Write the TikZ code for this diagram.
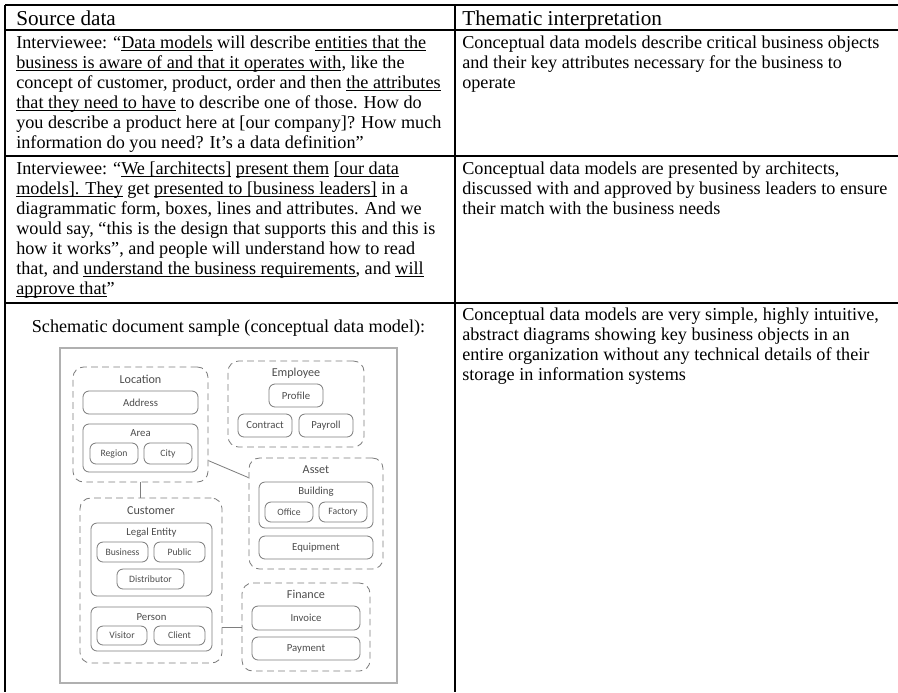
\documentclass[tikz,border=0pt]{standalone}
\usepackage{fontspec}
\setmainfont{Liberation Serif}
\newfontfamily\diagfont{Carlito}
\newcommand\myul[1]{\setbox0\hbox{#1}\rlap{\rule[-2.0pt]{\wd0}{0.5pt}}\box0\relax}
\usetikzlibrary{fit}
\definecolor{dg}{HTML}{7E7E7E}
\definecolor{dtext}{HTML}{4C4C4C}
\definecolor{frm}{HTML}{B0B0B0}
\newcommand\dbox[7]{%
  \path (#3,#4) coordinate (#1-a) (#5,#6) coordinate (#1-b);
  \node[#2, fit=(#1-a)(#1-b)] (#1) {};
  \node[#2, draw=none, inner sep=0pt] (#1-l) at (#1.center) {#7};}
\begin{document}
\begin{tikzpicture}[x=0.66pt,y=-0.66pt,
  tl/.style={anchor=base west,inner sep=0pt,font=\fontsize{12}{14}\selectfont},
  hd/.style={anchor=base west,inner sep=0pt,font=\fontsize{14}{16}\selectfont},
  rule/.style={line width=0.7pt,black},
  grp/.style={draw=dg,line width=0.55pt,dash pattern=on 4.4pt off 2.9pt,rounded corners=7pt,inner sep=0pt},
  sbox/.style={draw=dg,line width=0.55pt,rounded corners=4pt,inner sep=0pt,text=dtext,font=\diagfont\fontsize{6.4}{7}\selectfont},
  mbox/.style={sbox,font=\diagfont\fontsize{7.1}{8}\selectfont},
  ttl/.style={inner sep=0pt,text=dtext,font=\diagfont\fontsize{8.0}{9}\selectfont},
  mttl/.style={inner sep=0pt,text=dtext,font=\diagfont\fontsize{7.1}{8}\selectfont},
  conn/.style={draw=dg,line width=0.55pt}
]
\useasboundingbox (0,0) rectangle (898,692);
% table rules
\draw[rule] (5,5) -- (898,5);
\draw[rule] (5,30) -- (898,30);
\draw[rule] (5,156) -- (898,156);
\draw[rule] (5,303) -- (898,303);
\draw[rule] (5,5) -- (5,692);
\draw[rule] (455,5) -- (455,692);
% header
\node[hd] (hs) at (16,25) {Source data};
\node[hd] (ht) at (462,25) {Thematic interpretation};
% row 1
\node[tl] (a1) at (16,48) {Interviewee: “\myul{Data models} will describe \myul{entities that the}};
\node[tl] (a2) at (16,68) {\myul{business is aware of and that it operates with}, like the};
\node[tl] (a3) at (16,88) {concept of customer, product, order and then \myul{the attributes}};
\node[tl] (a4) at (16,108) {\myul{that they need to have} to describe one of those. How do};
\node[tl] (a5) at (16,128) {you describe a product here at [our company]? How much};
\node[tl] (a6) at (16,148) {information do you need? It’s a data definition”};
\node[tl] (b1) at (462,48) {Conceptual data models describe critical business objects};
\node[tl] (b2) at (462,68) {and their key attributes necessary for the business to};
\node[tl] (b3) at (462,88) {operate};
% row 2
\node[tl] (c1) at (16,174) {Interviewee: “\myul{We [architects]} \myul{present them} \myul{[our data}};
\node[tl] (c2) at (16,194) {\myul{models]. They} get \myul{presented to [business leaders]} in a};
\node[tl] (c3) at (16,214) {diagrammatic form, boxes, lines and attributes. And we};
\node[tl] (c4) at (16,234) {would say, “this is the design that supports this and this is};
\node[tl] (c5) at (16,254) {how it works”, and people will understand how to read};
\node[tl] (c6) at (16,274) {that, and \myul{understand the business requirements}, and \myul{will}};
\node[tl] (c7) at (16,294) {\myul{approve that}”};
\node[tl] (d1) at (462,174) {Conceptual data models are presented by architects,};
\node[tl] (d2) at (462,194) {discussed with and approved by business leaders to ensure};
\node[tl] (d3) at (462,214) {their match with the business needs};
% row 3
\node[tl,anchor=base] (e1) at (228.5,332) {Schematic document sample (conceptual data model):};
\node[tl] (f1) at (462,320) {Conceptual data models are very simple, highly intuitive,};
\node[tl] (f2) at (462,340) {abstract diagrams showing key business objects in an};
\node[tl] (f3) at (462,360) {entire organization without any technical details of their};
\node[tl] (f4) at (462,380) {storage in information systems};
% schematic frame
\path (60,348) coordinate (frame-a) (397,683) coordinate (frame-b);
\node[draw=frm,line width=1.1pt,inner sep=0pt,fit=(frame-a)(frame-b)] (frame) {};
% Location
\dbox{loc}{grp}{73}{367}{208}{482}{}
\node[ttl] (loc-t) at (140.5,379) {Location};
\dbox{addr}{mbox}{83}{391}{198}{414}{Address}
\dbox{area}{sbox}{83}{424}{198}{472}{}
\node[mttl] (area-t) at (140.5,433) {Area};
\dbox{region}{sbox}{90}{443}{138}{464}{Region}
\dbox{city}{sbox}{144}{443}{192}{464}{City}
% Employee
\dbox{emp}{grp}{228}{361}{364}{447}{}
\node[ttl] (emp-t) at (296,373) {Employee};
\dbox{profile}{mbox}{269}{384}{323}{407}{Profile}
\dbox{contract}{mbox}{238}{414}{292}{437}{Contract}
\dbox{payroll}{mbox}{299}{414}{353}{437}{Payroll}
% Asset
\dbox{asset}{grp}{249}{458}{383}{569}{}
\node[ttl] (asset-t) at (316,470) {Asset};
\dbox{build}{sbox}{259}{482}{373}{528}{}
\node[mttl] (build-t) at (316,492) {Building};
\dbox{office}{sbox}{265}{502}{313}{522}{Office}
\dbox{factory}{sbox}{319}{502}{367}{522}{Factory}
\dbox{equip}{mbox}{259}{536}{373}{559}{Equipment}
% Customer
\dbox{cust}{grp}{80}{498}{222}{663}{}
\node[ttl] (cust-t) at (151,511) {Customer};
\dbox{legal}{sbox}{91}{523}{212}{596}{}
\node[mttl] (legal-t) at (151.5,533) {Legal Entity};
\dbox{business}{sbox}{97}{542}{148}{562}{Business}
\dbox{public}{sbox}{154}{542}{205}{562}{Public}
\dbox{distrib}{sbox}{117}{569}{184}{589}{Distributor}
\dbox{person}{sbox}{91}{607}{212}{651}{}
\node[mttl] (person-t) at (151.5,617) {Person};
\dbox{visitor}{sbox}{97}{626}{147}{645}{Visitor}
\dbox{client}{sbox}{154}{626}{205}{645}{Client}
% Finance
\dbox{fin}{grp}{242}{583}{370}{671}{}
\node[ttl] (fin-t) at (306,594) {Finance};
\dbox{invoice}{mbox}{252}{606}{360}{630}{Invoice}
\dbox{payment}{mbox}{252}{637}{360}{660}{Payment}
% connectors
\draw[conn] (loc.south) -- (loc.south |- cust.north);
\draw[conn] (loc.-28) -- (asset.152);
\draw[conn] (fin.west) -- (fin.west -| cust.east);
\end{tikzpicture}
\end{document}
